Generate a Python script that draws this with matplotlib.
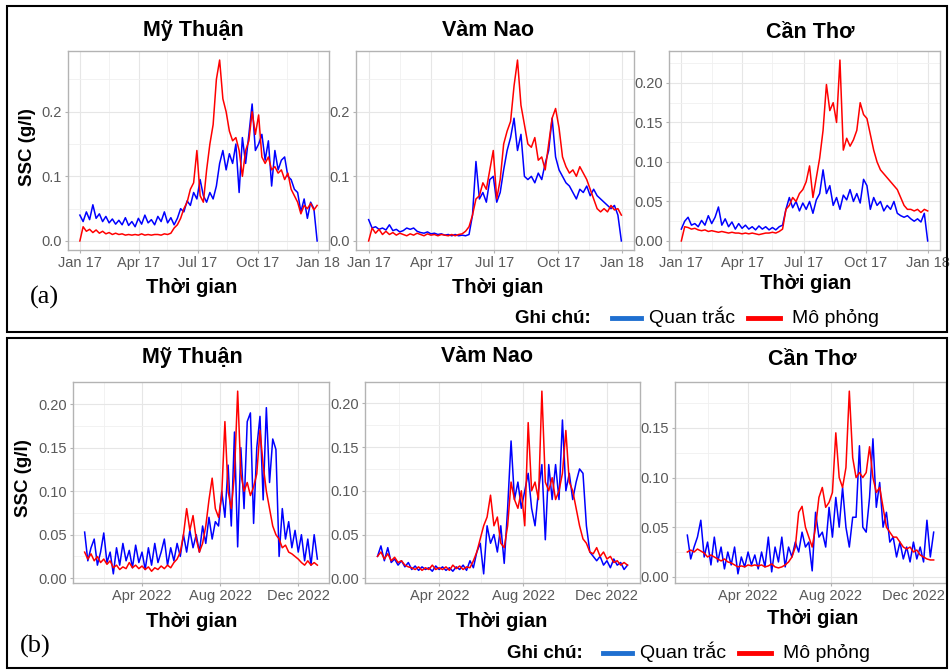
import numpy as np
import pandas as pd
import matplotlib
matplotlib.use('Agg')
import matplotlib.pyplot as plt
import matplotlib.dates as mdates
from matplotlib.lines import Line2D
from matplotlib.patches import Rectangle
from matplotlib.ticker import MultipleLocator, FormatStrFormatter

plt.rcParams['font.family'] = ['Liberation Sans', 'DejaVu Sans']

# ~5-day samples, Jan 1 -> Dec 31
dates_2017 = pd.date_range('2017-01-01', '2017-12-31', periods=74)
dates_2022 = pd.date_range('2022-01-01', '2022-12-31', periods=74)

# (a) 2017 - observed (Quan trắc) and simulated (Mô phỏng), g/l
mt17_obs = [0.040, 0.030, 0.045, 0.033, 0.056, 0.035, 0.042, 0.030, 0.038, 0.028,
            0.034, 0.026, 0.032, 0.025, 0.036, 0.024, 0.030, 0.022, 0.035, 0.026,
            0.040, 0.028, 0.033, 0.025, 0.038, 0.030, 0.045, 0.028, 0.036, 0.025,
            0.035, 0.050, 0.045, 0.062, 0.055, 0.075, 0.065, 0.095, 0.070, 0.060,
            0.075, 0.065, 0.085, 0.120, 0.140, 0.110, 0.135, 0.120, 0.150, 0.075,
            0.160, 0.120, 0.165, 0.212, 0.140, 0.150, 0.165, 0.125, 0.155, 0.085,
            0.140, 0.110, 0.125, 0.130, 0.100, 0.095, 0.080, 0.075, 0.045, 0.065,
            0.035, 0.060, 0.050, 0.000]
mt17_sim = [0.000, 0.022, 0.015, 0.018, 0.013, 0.017, 0.012, 0.015, 0.011, 0.013,
            0.010, 0.012, 0.010, 0.011, 0.009, 0.010, 0.009, 0.010, 0.009, 0.011,
            0.009, 0.010, 0.009, 0.010, 0.010, 0.009, 0.011, 0.010, 0.012, 0.020,
            0.025, 0.035, 0.050, 0.060, 0.080, 0.090, 0.140, 0.070, 0.060, 0.110,
            0.150, 0.180, 0.250, 0.280, 0.220, 0.200, 0.170, 0.155, 0.160, 0.140,
            0.100, 0.140, 0.155, 0.200, 0.165, 0.195, 0.130, 0.120, 0.130, 0.110,
            0.115, 0.105, 0.110, 0.095, 0.105, 0.080, 0.070, 0.060, 0.042, 0.055,
            0.050, 0.058, 0.048, 0.055]
vn17_obs = [0.033, 0.020, 0.022, 0.018, 0.020, 0.017, 0.025, 0.016, 0.018, 0.014,
            0.016, 0.020, 0.018, 0.020, 0.015, 0.013, 0.012, 0.014, 0.011, 0.012,
            0.010, 0.011, 0.009, 0.010, 0.008, 0.010, 0.008, 0.009, 0.008, 0.010,
            0.040, 0.123, 0.065, 0.075, 0.060, 0.095, 0.100, 0.060, 0.075, 0.110,
            0.140, 0.160, 0.190, 0.140, 0.165, 0.100, 0.095, 0.100, 0.090, 0.105,
            0.095, 0.120, 0.140, 0.190, 0.130, 0.110, 0.100, 0.090, 0.085, 0.075,
            0.065, 0.080, 0.075, 0.085, 0.070, 0.080, 0.070, 0.065, 0.060, 0.055,
            0.050, 0.055, 0.040, 0.000]
vn17_sim = [0.000, 0.020, 0.012, 0.018, 0.010, 0.015, 0.010, 0.013, 0.009, 0.012,
            0.010, 0.008, 0.011, 0.009, 0.012, 0.010, 0.008, 0.011, 0.009, 0.010,
            0.008, 0.010, 0.009, 0.008, 0.010, 0.008, 0.010, 0.011, 0.015, 0.022,
            0.040, 0.065, 0.070, 0.090, 0.080, 0.110, 0.140, 0.065, 0.095, 0.150,
            0.170, 0.185, 0.240, 0.280, 0.210, 0.180, 0.150, 0.145, 0.160, 0.125,
            0.130, 0.110, 0.150, 0.190, 0.205, 0.175, 0.130, 0.115, 0.105, 0.110,
            0.100, 0.115, 0.105, 0.095, 0.080, 0.065, 0.050, 0.045, 0.050, 0.045,
            0.055, 0.048, 0.050, 0.040]
ct17_obs = [0.015, 0.025, 0.030, 0.020, 0.022, 0.018, 0.026, 0.020, 0.032, 0.022,
            0.030, 0.043, 0.020, 0.028, 0.018, 0.024, 0.015, 0.022, 0.016, 0.020,
            0.015, 0.018, 0.014, 0.019, 0.015, 0.018, 0.014, 0.017, 0.014, 0.018,
            0.020, 0.040, 0.055, 0.042, 0.050, 0.038, 0.048, 0.040, 0.050, 0.035,
            0.052, 0.060, 0.090, 0.060, 0.070, 0.045, 0.055, 0.040, 0.058, 0.052,
            0.065, 0.050, 0.060, 0.048, 0.078, 0.070, 0.040, 0.055, 0.045, 0.050,
            0.038, 0.045, 0.040, 0.050, 0.035, 0.032, 0.030, 0.032, 0.028, 0.025,
            0.028, 0.024, 0.035, 0.000]
ct17_sim = [0.000, 0.018, 0.017, 0.015, 0.016, 0.014, 0.013, 0.014, 0.012, 0.013,
            0.012, 0.011, 0.012, 0.011, 0.010, 0.011, 0.010, 0.010, 0.009, 0.010,
            0.009, 0.010, 0.009, 0.008, 0.009, 0.010, 0.010, 0.011, 0.010, 0.012,
            0.015, 0.040, 0.045, 0.055, 0.050, 0.060, 0.065, 0.075, 0.095, 0.055,
            0.080, 0.105, 0.140, 0.198, 0.165, 0.175, 0.150, 0.229, 0.115, 0.130,
            0.120, 0.128, 0.140, 0.175, 0.160, 0.155, 0.135, 0.115, 0.100, 0.090,
            0.085, 0.080, 0.075, 0.070, 0.065, 0.055, 0.045, 0.040, 0.040, 0.038,
            0.040, 0.036, 0.040, 0.038]

# (b) 2022
mt22_obs = [0.053, 0.020, 0.035, 0.045, 0.015, 0.030, 0.052, 0.018, 0.030, 0.005,
            0.035, 0.015, 0.040, 0.020, 0.032, 0.012, 0.038, 0.018, 0.030, 0.010,
            0.035, 0.015, 0.040, 0.018, 0.030, 0.045, 0.015, 0.035, 0.020, 0.040,
            0.025, 0.050, 0.030, 0.055, 0.035, 0.050, 0.030, 0.060, 0.040, 0.070,
            0.045, 0.065, 0.060, 0.100, 0.070, 0.130, 0.060, 0.168, 0.036, 0.150,
            0.080, 0.180, 0.190, 0.063, 0.150, 0.186, 0.090, 0.196, 0.110, 0.160,
            0.148, 0.025, 0.080, 0.045, 0.065, 0.035, 0.055, 0.030, 0.050, 0.020,
            0.045, 0.015, 0.050, 0.022]
mt22_sim = [0.030, 0.022, 0.028, 0.020, 0.025, 0.018, 0.022, 0.016, 0.020, 0.012,
            0.015, 0.010, 0.013, 0.011, 0.018, 0.012, 0.015, 0.011, 0.014, 0.010,
            0.013, 0.008, 0.012, 0.010, 0.014, 0.011, 0.015, 0.012, 0.018, 0.022,
            0.030, 0.050, 0.080, 0.055, 0.072, 0.045, 0.030, 0.040, 0.060, 0.090,
            0.115, 0.080, 0.070, 0.095, 0.180, 0.100, 0.080, 0.120, 0.215, 0.120,
            0.100, 0.110, 0.095, 0.105, 0.120, 0.170, 0.130, 0.100, 0.080, 0.060,
            0.050, 0.045, 0.035, 0.038, 0.030, 0.028, 0.025, 0.022, 0.018, 0.015,
            0.020, 0.015, 0.018, 0.015]
vn22_obs = [0.025, 0.037, 0.020, 0.035, 0.018, 0.022, 0.015, 0.020, 0.013, 0.018,
            0.010, 0.014, 0.009, 0.013, 0.010, 0.012, 0.008, 0.014, 0.010, 0.013,
            0.009, 0.012, 0.008, 0.013, 0.010, 0.015, 0.009, 0.020, 0.012, 0.030,
            0.040, 0.005, 0.060, 0.040, 0.050, 0.030, 0.060, 0.017, 0.080, 0.157,
            0.090, 0.110, 0.080, 0.100, 0.120, 0.080, 0.060, 0.100, 0.130, 0.044,
            0.130, 0.090, 0.130, 0.090, 0.181, 0.100, 0.120, 0.090, 0.110, 0.125,
            0.120, 0.060, 0.030, 0.025, 0.020, 0.025, 0.015, 0.020, 0.012, 0.022,
            0.015, 0.018, 0.010, 0.015]
vn22_sim = [0.025, 0.030, 0.022, 0.028, 0.020, 0.024, 0.018, 0.020, 0.015, 0.013,
            0.012, 0.010, 0.013, 0.009, 0.012, 0.010, 0.015, 0.010, 0.012, 0.010,
            0.013, 0.009, 0.015, 0.011, 0.014, 0.010, 0.013, 0.012, 0.020, 0.030,
            0.045, 0.060, 0.070, 0.095, 0.060, 0.070, 0.040, 0.035, 0.060, 0.110,
            0.090, 0.080, 0.100, 0.060, 0.178, 0.100, 0.110, 0.090, 0.214, 0.110,
            0.100, 0.115, 0.090, 0.100, 0.120, 0.169, 0.110, 0.100, 0.080, 0.060,
            0.045, 0.040, 0.030, 0.028, 0.035, 0.025, 0.030, 0.022, 0.025, 0.018,
            0.020, 0.015, 0.018, 0.015]
ct22_obs = [0.042, 0.018, 0.030, 0.040, 0.057, 0.020, 0.035, 0.012, 0.040, 0.015,
            0.030, 0.008, 0.025, 0.012, 0.030, 0.003, 0.020, 0.010, 0.025, 0.012,
            0.022, 0.008, 0.025, 0.010, 0.040, 0.005, 0.030, 0.015, 0.040, 0.010,
            0.030, 0.020, 0.035, 0.025, 0.045, 0.030, 0.035, 0.006, 0.065, 0.040,
            0.045, 0.030, 0.070, 0.040, 0.080, 0.050, 0.090, 0.050, 0.030, 0.060,
            0.060, 0.132, 0.050, 0.045, 0.080, 0.139, 0.070, 0.095, 0.050, 0.065,
            0.035, 0.040, 0.020, 0.035, 0.018, 0.030, 0.015, 0.035, 0.018, 0.030,
            0.015, 0.057, 0.020, 0.045]
ct22_sim = [0.025, 0.027, 0.025, 0.028, 0.026, 0.024, 0.020, 0.022, 0.020, 0.018,
            0.016, 0.018, 0.015, 0.014, 0.012, 0.010, 0.011, 0.010, 0.012, 0.011,
            0.012, 0.011, 0.012, 0.010, 0.011, 0.013, 0.010, 0.009, 0.010, 0.012,
            0.015, 0.020, 0.030, 0.065, 0.071, 0.050, 0.040, 0.030, 0.050, 0.080,
            0.090, 0.070, 0.075, 0.085, 0.145, 0.100, 0.090, 0.110, 0.187, 0.120,
            0.100, 0.105, 0.100, 0.105, 0.131, 0.100, 0.085, 0.090, 0.070, 0.050,
            0.045, 0.040, 0.040, 0.035, 0.030, 0.028, 0.030, 0.025, 0.027, 0.022,
            0.020, 0.018, 0.017, 0.017]

stations = ['Mỹ Thuận', 'Vàm Nao', 'Cần Thơ']
obs_label = 'Quan trắc'
sim_label = 'Mô phỏng'

W, H = 951, 670
fig = plt.figure(figsize=(W / 100, H / 100), dpi=100)


def box(x0, y0, x1, y1):
    return [x0 / W, 1 - y1 / H, (x1 - x0) / W, (y1 - y0) / H]


GRID = '#E6E6E6'
BORDER = '#B3B3B3'
TICKC = '#595959'

panels = [
    # rect, dates, obs, sim, ystep, yfmt, year
    ((68, 51, 329, 250), dates_2017, mt17_obs, mt17_sim, 0.1, '%.1f', 2017),
    ((356, 51, 634, 250), dates_2017, vn17_obs, vn17_sim, 0.1, '%.1f', 2017),
    ((669, 51, 940, 250), dates_2017, ct17_obs, ct17_sim, 0.05, '%.2f', 2017),
    ((73, 382, 329, 583), dates_2022, mt22_obs, mt22_sim, 0.05, '%.2f', 2022),
    ((365, 382, 640, 583), dates_2022, vn22_obs, vn22_sim, 0.05, '%.2f', 2022),
    ((675, 382, 946, 583), dates_2022, ct22_obs, ct22_sim, 0.05, '%.2f', 2022),
]

for rect, dates, obs, sim, ystep, yfmt, year in panels:
    ax = fig.add_axes(box(*rect))
    ax.plot(dates, obs, color='#0000FF', lw=1.1)
    ax.plot(dates, sim, color='#FF0000', lw=1.1)
    ax.margins(x=0.05, y=0.05)

    if year == 2017:
        ax.xaxis.set_major_locator(mdates.MonthLocator(bymonth=[1, 4, 7, 10]))
        ax.xaxis.set_minor_locator(mdates.MonthLocator(bymonth=[2, 5, 8, 11], bymonthday=15))
        ax.xaxis.set_major_formatter(mdates.DateFormatter('%b %y'))
    else:
        ax.xaxis.set_major_locator(mdates.MonthLocator(bymonth=[4, 8, 12]))
        ax.xaxis.set_minor_locator(mdates.MonthLocator(bymonth=[2, 6, 10]))
        ax.xaxis.set_major_formatter(mdates.DateFormatter('%b %Y'))
    ax.yaxis.set_major_locator(MultipleLocator(ystep))
    ax.yaxis.set_minor_locator(MultipleLocator(ystep / 2))
    ax.yaxis.set_major_formatter(FormatStrFormatter(yfmt))

    ax.grid(which='major', color=GRID, lw=0.8)
    ax.grid(which='minor', color='#F0F0F0', lw=0.6)
    ax.set_axisbelow(True)
    for s in ax.spines.values():
        s.set_color(BORDER)
        s.set_linewidth(1.0)
    ax.tick_params(which='major', length=2.5, color=BORDER, labelsize=10.5,
                   labelcolor=TICKC, pad=2)
    ax.tick_params(which='minor', length=0)

# titles and axis labels
title_pos = [(193, 36), (488, 36), (810, 38), (192, 363), (487, 362), (812, 365)]
for i, (x, y) in enumerate(title_pos):
    fig.text(x / W, 1 - y / H, stations[i % 3], ha='center', va='baseline',
             fontsize=15.5, fontweight='bold')

xlab_pos = [(192, 293), (498, 293), (806, 289), (192, 627), (502, 627), (813, 624)]
for x, y in xlab_pos:
    fig.text(x / W, 1 - y / H, 'Thời gian', ha='center', va='baseline',
             fontsize=14.5, fontweight='bold')

for x, y in [(28, 147), (23, 478)]:
    fig.text(x / W, 1 - y / H, 'SSC (g/l)', ha='center', va='center',
             rotation=90, fontsize=13.5, fontweight='bold')

fig.text(30 / W, 1 - 304 / H, '(a)', ha='left', va='baseline', fontsize=19,
         family=['Liberation Serif', 'DejaVu Serif'])
fig.text(20 / W, 1 - 653 / H, '(b)', ha='left', va='baseline', fontsize=19,
         family=['Liberation Serif', 'DejaVu Serif'])

# legends (Ghi chú)
for gx, lx, ly in [(515, 612, 318), (507, 603, 653)]:
    yy = 1 - ly / H
    base = 1 - (ly + 5) / H
    fig.text(gx / W, base, 'Ghi chú:', ha='left', va='baseline', fontsize=13.5,
             fontweight='bold')
    fig.add_artist(Line2D([lx / W, (lx + 29) / W], [yy, yy], color='#1F6FD0',
                          lw=3.5, transform=fig.transFigure))
    fig.text((lx + 37) / W, base, obs_label, ha='left', va='baseline', fontsize=14)
    rx = lx + 136
    fig.add_artist(Line2D([rx / W, (rx + 32) / W], [yy, yy], color='#FF0000',
                          lw=3.5, transform=fig.transFigure))
    fig.text((rx + 44) / W, base, sim_label, ha='left', va='baseline', fontsize=14)

# frames around (a) and (b)
for y0, y1 in [(6, 332), (338, 668)]:
    fig.add_artist(Rectangle((7 / W, 1 - y1 / H), 940 / W, (y1 - y0) / H,
                             fill=False, edgecolor='black', lw=1.5,
                             transform=fig.transFigure))

fig.savefig('out.png', dpi=100)
